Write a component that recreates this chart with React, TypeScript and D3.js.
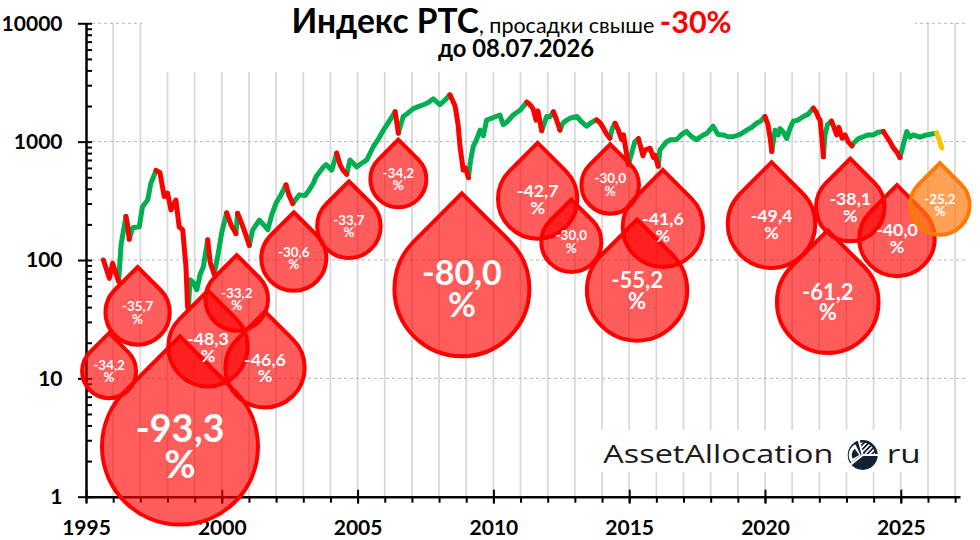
import * as d3 from 'd3';
import { useEffect, useRef } from 'react';

// RTS index (year fraction, index points)
const years = [
  1995.64, 1995.86, 1995.98, 1996.2, 1996.29, 1996.47, 1996.53, 1996.59, 1996.72, 1996.96,
  1997.08, 1997.27, 1997.39, 1997.58, 1997.72, 1997.88, 1998.0, 1998.13, 1998.31, 1998.43,
  1998.56, 1998.68, 1998.74, 1998.77, 1998.83, 1998.94, 1999.08, 1999.2, 1999.32, 1999.48,
  1999.57, 1999.72, 1999.86, 2000.0, 2000.18, 2000.34, 2000.52, 2000.58, 2000.71, 2000.85,
  2001.01, 2001.14, 2001.38, 2001.55, 2001.69, 2001.85, 2002.0, 2002.18, 2002.36, 2002.47,
  2002.61, 2002.85, 2003.06, 2003.22, 2003.37, 2003.47, 2003.74, 2003.84, 2004.05, 2004.23,
  2004.35, 2004.46, 2004.6, 2004.72, 2004.97, 2005.16, 2005.34, 2005.58, 2005.75, 2005.95,
  2006.19, 2006.38, 2006.44, 2006.5, 2006.68, 2006.86, 2007.05, 2007.24, 2007.42, 2007.59,
  2007.79, 2008.03, 2008.22, 2008.4, 2008.59, 2008.7, 2008.77, 2008.89, 2008.97, 2009.08,
  2009.16, 2009.26, 2009.38, 2009.51, 2009.63, 2009.75, 2010.0, 2010.24, 2010.36, 2010.49,
  2010.73, 2010.98, 2011.23, 2011.35, 2011.46, 2011.57, 2011.64, 2011.78, 2011.96, 2012.08,
  2012.21, 2012.3, 2012.45, 2012.56, 2012.7, 2012.86, 2013.07, 2013.26, 2013.43, 2013.62,
  2013.8, 2013.93, 2014.05, 2014.18, 2014.29, 2014.38, 2014.48, 2014.6, 2014.72, 2014.79,
  2014.88, 2014.97, 2015.09, 2015.21, 2015.34, 2015.51, 2015.58, 2015.77, 2015.89, 2015.95,
  2016.07, 2016.13, 2016.38, 2016.54, 2016.75, 2016.93, 2017.11, 2017.3, 2017.48, 2017.68,
  2017.85, 2018.09, 2018.27, 2018.46, 2018.64, 2018.83, 2019.08, 2019.33, 2019.51, 2019.69,
  2019.85, 2020.0, 2020.11, 2020.2, 2020.25, 2020.37, 2020.49, 2020.55, 2020.67, 2020.8,
  2020.92, 2021.04, 2021.21, 2021.41, 2021.58, 2021.78, 2021.88, 2021.97, 2022.03, 2022.1,
  2022.15, 2022.21, 2022.3, 2022.45, 2022.54, 2022.64, 2022.72, 2022.84, 2022.95, 2023.06,
  2023.2, 2023.26, 2023.44, 2023.62, 2023.79, 2023.99, 2024.16, 2024.36, 2024.49, 2024.6,
  2024.72, 2024.85, 2024.97, 2025.09, 2025.22, 2025.34, 2025.46, 2025.71, 2025.95, 2026.14,
  2026.32, 2026.41, 2026.51
];
const rts = [
  100, 70, 94, 66, 134, 233, 198, 150, 187, 191,
  282, 321, 446, 571, 550, 344, 368, 265, 321, 191,
  180, 88, 40.4, 38.3, 68, 65, 56, 75, 88, 148,
  96, 76, 111, 172, 250, 198, 167, 248, 210, 172,
  133, 180, 217, 198, 180, 245, 303, 355, 432, 355,
  300, 355, 350, 390, 445, 506, 612, 640, 575, 800,
  640, 575, 530, 700, 612, 660, 700, 910, 1040, 1250,
  1520, 1790, 1460, 1180, 1630, 1750, 1900, 1980, 2050, 2130,
  2300, 2050, 2250, 2487, 2000, 1390, 912, 575, 600, 497,
  700, 912, 1040, 1250, 1120, 1520, 1600, 1680, 1390, 1460,
  1680, 1840, 2160, 2050, 1900, 1520, 1820, 1237, 1630, 1620,
  1790, 1590, 1253, 1440, 1520, 1590, 1630, 1460, 1350, 1460,
  1530, 1440, 1300, 1150, 1071, 1300, 1430, 1250, 1040, 1140,
  850, 641, 800, 1000, 1060, 760, 850, 880, 735, 770,
  619, 850, 1000, 1040, 1040, 1150, 1220, 1100, 1040, 1120,
  1170, 1350, 1150, 1140, 1100, 1100, 1150, 1250, 1320, 1430,
  1500, 1630, 1390, 1040, 825, 1250, 1140, 1290, 1210, 1060,
  1290, 1490, 1520, 1630, 1700, 1919, 1790, 1590, 1520, 1040,
  744, 1140, 1390, 1490, 1320, 1140, 1320, 1070, 1140, 1000,
  922, 970, 1060, 1100, 1140, 1140, 1200, 1220, 1090, 1000,
  890, 820, 732, 940, 1220, 1090, 1140, 1090, 1140, 1160,
  1180, 1040, 883
];

// drawdowns: peak date, trough date, depth (last one is the current, unfinished one)
const ddPeak = [
  1995.64, 1996.47, 1997.58, 1999.48, 2000.18, 2000.58, 2002.36, 2004.23, 2006.38, 2008.4,
  2011.23, 2012.21, 2013.8, 2014.48, 2015.34, 2020.0, 2021.78, 2022.45, 2024.36, 2026.32
];
const ddTrough = [
  1996.2, 1996.59, 1998.77, 1999.72, 2000.52, 2001.01, 2002.61, 2004.6, 2006.5, 2009.08,
  2011.78, 2012.45, 2014.29, 2014.97, 2016.07, 2020.25, 2022.15, 2023.2, 2024.97, 2026.51
];
const ddPct = [
  -34.2, -35.7, -93.3, -48.3, -33.2, -46.6, -30.6, -33.7, -34.2, -80.0,
  -42.7, -30.0, -30.0, -55.2, -41.6, -49.4, -61.2, -38.1, -40.0, -25.2
];

// drop bubbles: where each drop sits (year, index level) and its bubble size
const bubbleYear = [
  1995.85, 1996.9, 1998.46, 1999.49, 2000.55, 2001.59, 2002.65, 2004.68, 2006.5, 2008.84,
  2011.63, 2012.87, 2014.3, 2015.29, 2016.24, 2020.24, 2022.31, 2023.14, 2024.86, 2026.44
];
const bubbleLevel = [
  11.5, 36, 2.65, 18.5, 46.5, 12.3, 103.5, 193, 481, 57.1,
  328, 142, 431, 55.3, 191, 201, 44, 280, 152, 291
];
const bubbleSize = [
  12.0, 17.0, 100, 25.9, 16.1, 25.9, 17.4, 16.6, 12.9, 74.9,
  25.9, 14.8, 13.6, 41.4, 26.6, 31.5, 42.4, 19.3, 23.4, 14.5
];

const yTicks = [1, 10, 100, 1000, 10000];
const xTicks = [1995, 2000, 2005, 2010, 2015, 2020, 2025];
const xMinor = d3.range(1995, 2028);

const LABEL_FONT = "Lato, 'Open Sans', sans-serif";

const App = () => {
  const ref = useRef<SVGSVGElement | null>(null);

  useEffect(() => {
    if (!ref.current) return;
    const svg = d3.select(ref.current);
    svg.selectAll('*').remove();

    const x = d3.scaleLinear().domain([1995, 2027.18]).range([86, 960]);
    const y = d3.scaleLog().domain([1, 10000]).range([496.7, 23.3]);
    const r = d3.scaleSqrt().domain([0, 100]).range([0, 78]);
    const fontSize = d3
      .scaleThreshold<number, number>()
      .domain([37, 52, 70, 90])
      .range([13.4, 17.8, 22, 34, 38]);
    const fmt = d3
      .formatLocale({ decimal: ',', thousands: ' ', grouping: [3], currency: ['', ''], minus: '-' })
      .format('.1f');

    // grid
    svg.append('g')
      .selectAll('line')
      .data(xMinor.slice(1))
      .join('line')
      .attr('x1', d => x(d)).attr('x2', d => x(d))
      .attr('y1', y(1)).attr('y2', y(10000))
      .attr('stroke', '#d9d9d9').attr('stroke-width', 1.8);

    svg.append('g')
      .selectAll('line')
      .data(yTicks.slice(1))
      .join('line')
      .attr('x1', x(1995)).attr('x2', 966)
      .attr('y1', d => y(d)).attr('y2', d => y(d))
      .attr('stroke', '#b4b4b4').attr('stroke-width', 1).attr('stroke-dasharray', '3,3');

    // title & watermark backgrounds
    svg.append('rect').attr('x', 142).attr('y', 0).attr('width', 773).attr('height', 72).attr('fill', '#fff');
    svg.append('rect').attr('x', 598).attr('y', 430).attr('width', 328).attr('height', 42).attr('fill', '#fff');

    // axes
    const xAxis = svg.append('g')
      .attr('transform', `translate(0,${y(1)})`)
      .call(d3.axisBottom(x).tickValues(xTicks).tickFormat(d3.format('d')).tickSize(7).tickSizeOuter(0).tickPadding(16));
    xAxis.select('.domain').attr('stroke', '#000').attr('stroke-width', 2.5);
    xAxis.selectAll('.tick line').attr('y1', -7).attr('stroke-width', 2);
    xAxis.selectAll('.tick text')
      .attr('font-family', LABEL_FONT).attr('font-weight', 700).attr('font-size', 21).attr('fill', '#000');

    svg.append('g')
      .attr('transform', `translate(0,${y(1)})`)
      .call(d3.axisBottom(x).tickValues(xMinor).tickFormat(() => '').tickSize(6).tickSizeOuter(0))
      .call(g => g.select('.domain').remove())
      .selectAll('.tick line').attr('stroke-width', 2);

    const yAxis = svg.append('g')
      .attr('transform', `translate(${x(1995)},0)`)
      .call(d3.axisLeft(y).tickValues(yTicks).tickFormat(d3.format('d')).tickSize(8).tickSizeOuter(0).tickPadding(15.5));
    yAxis.select('.domain').attr('stroke', '#000').attr('stroke-width', 2.5);
    yAxis.selectAll('.tick line').attr('x1', 6).attr('stroke-width', 2);
    yAxis.selectAll('.tick text')
      .attr('font-family', LABEL_FONT).attr('font-weight', 700).attr('font-size', 21).attr('fill', '#000');

    svg.append('g')
      .attr('transform', `translate(${x(1995)},0)`)
      .call(d3.axisRight(y).tickValues(y.ticks().filter(v => !yTicks.includes(v))).tickFormat(() => '').tickSize(6).tickSizeOuter(0))
      .call(g => g.select('.domain').remove())
      .selectAll('.tick line').attr('stroke-width', 2);

    // index line, coloured by drawdown episode
    const last = ddPct.length - 1;
    const kindOf = (i: number) => {
      const j = ddPeak.findIndex((p, k) => p <= years[i] && years[i + 1] <= ddTrough[k]);
      return j < 0 ? 'up' : j === last ? 'now' : 'down';
    };
    const runs: { kind: string; idx: number[] }[] = [];
    for (let i = 0; i < years.length - 1; i++) {
      const kind = kindOf(i);
      const prev = runs[runs.length - 1];
      if (prev && prev.kind === kind) prev.idx.push(i + 1);
      else runs.push({ kind, idx: [i, i + 1] });
    }
    const line = d3.line<number>().x(i => x(years[i])).y(i => y(rts[i]));
    const lineColor: Record<string, string> = { up: '#00b050', down: '#ff0000', now: '#ffc000' };
    const order = ['up', 'down', 'now'];
    svg.append('g')
      .selectAll('path')
      .data(runs.slice().sort((a, b) => order.indexOf(a.kind) - order.indexOf(b.kind)))
      .join('path')
      .attr('d', d => line(d.idx))
      .attr('fill', 'none')
      .attr('stroke', d => lineColor[d.kind])
      .attr('stroke-width', 5)
      .attr('stroke-linejoin', 'round')
      .attr('stroke-linecap', 'round');

    // drops
    const drop = (rad: number) => {
      const s = rad / Math.SQRT2;
      return `M0,${-rad * Math.SQRT2}L${s},${-s}A${rad},${rad} 0 1 1 ${-s},${-s}Z`;
    };
    const drops = svg.append('g')
      .selectAll('g')
      .data(ddPct.map((v, i) => i))
      .join('g')
      .attr('transform', i => `translate(${x(bubbleYear[i])},${y(bubbleLevel[i])})`);
    drops.append('path')
      .attr('d', i => drop(r(bubbleSize[i])))
      .attr('fill', i => (i === last ? '#ff7a10' : '#ff0000'))
      .attr('fill-opacity', i => (i === last ? 0.7 : 0.64))
      .attr('stroke', i => (i === last ? '#ff7a00' : '#ff0000'))
      .attr('stroke-width', 4)
      .attr('stroke-linejoin', 'miter');
    const labels = drops.append('text')
      .attr('text-anchor', 'middle')
      .attr('fill', '#fff')
      .attr('font-family', LABEL_FONT)
      .attr('font-weight', 700)
      .attr('font-size', i => fontSize(Math.abs(ddPct[i])));
    labels.append('tspan').attr('x', 0).attr('y', i => -0.12 * fontSize(Math.abs(ddPct[i]))).text(i => fmt(ddPct[i]));
    labels.append('tspan').attr('x', 0).attr('y', i => 0.83 * fontSize(Math.abs(ddPct[i]))).text('%');

    // title
    const title = svg.append('text')
      .attr('x', 511.5).attr('y', 33.3)
      .attr('text-anchor', 'middle')
      .attr('font-family', LABEL_FONT)
      .style('white-space', 'pre');
    title.append('tspan').attr('font-weight', 700).attr('font-size', 33.5).text('Индекс РТС');
    title.append('tspan').attr('font-size', 21.5).text(', просадки свыше ');
    title.append('tspan').attr('font-weight', 700).attr('font-size', 30.5).attr('fill', '#ff0000').text('-30%');
    svg.append('text')
      .attr('x', 516).attr('y', 57.3)
      .attr('text-anchor', 'middle')
      .attr('font-family', LABEL_FONT)
      .attr('font-weight', 700).attr('font-size', 23.8)
      .text('до 08.07.2026');

    // watermark
    const wm = svg.append('g').attr('fill', '#1b1b1b').attr('font-family', "'Open Sans', sans-serif").attr('font-size', 25.6);
    wm.append('text').attr('x', 603.3).attr('y', 463.3)
      .attr('textLength', 230).attr('lengthAdjust', 'spacingAndGlyphs').text('AssetAllocation');
    wm.append('text').attr('x', 886.7).attr('y', 463.3)
      .attr('textLength', 34).attr('lengthAdjust', 'spacingAndGlyphs').text('ru');

    const logo = svg.append('g').attr('transform', 'translate(862.7,455)');
    const defs = svg.append('defs');
    defs.append('pattern')
      .attr('id', 'hatch').attr('width', 3.4).attr('height', 3.4)
      .attr('patternUnits', 'userSpaceOnUse').attr('patternTransform', 'rotate(45)')
      .append('rect').attr('width', 1.7).attr('height', 3.4).attr('fill', '#fff');
    const arc = d3.arc<{ a0: number; a1: number; r0: number; r1: number }>()
      .startAngle(d => d.a0).endAngle(d => d.a1).innerRadius(d => d.r0).outerRadius(d => d.r1);
    const deg = Math.PI / 180;
    logo.append('circle').attr('r', 15).attr('fill', '#132034');
    logo.append('path').attr('d', arc({ a0: -15 * deg, a1: 88 * deg, r0: 2.5, r1: 12.5 })).attr('fill', 'url(#hatch)');
    logo.append('path').attr('d', arc({ a0: 232 * deg, a1: 333 * deg, r0: 0, r1: 12 }))
      .attr('transform', 'translate(-2,0)').attr('fill', '#fff');
    logo.append('path').attr('d', arc({ a0: 240 * deg, a1: 325 * deg, r0: 0, r1: 7.5 }))
      .attr('transform', 'translate(-3.5,0)').attr('fill', '#132034');
    logo.selectAll('line.sep')
      .data([-15, 90, 232])
      .join('line')
      .attr('x2', a => 16 * Math.sin(a * deg)).attr('y2', a => -16 * Math.cos(a * deg))
      .attr('stroke', '#fff').attr('stroke-width', 2);
  }, []);

  return (
    <svg
      ref={ref}
      width={980}
      height={540}
      style={{ position: 'absolute', left: 0, top: 0, background: '#fff' }}
    />
  );
};

export default App;
